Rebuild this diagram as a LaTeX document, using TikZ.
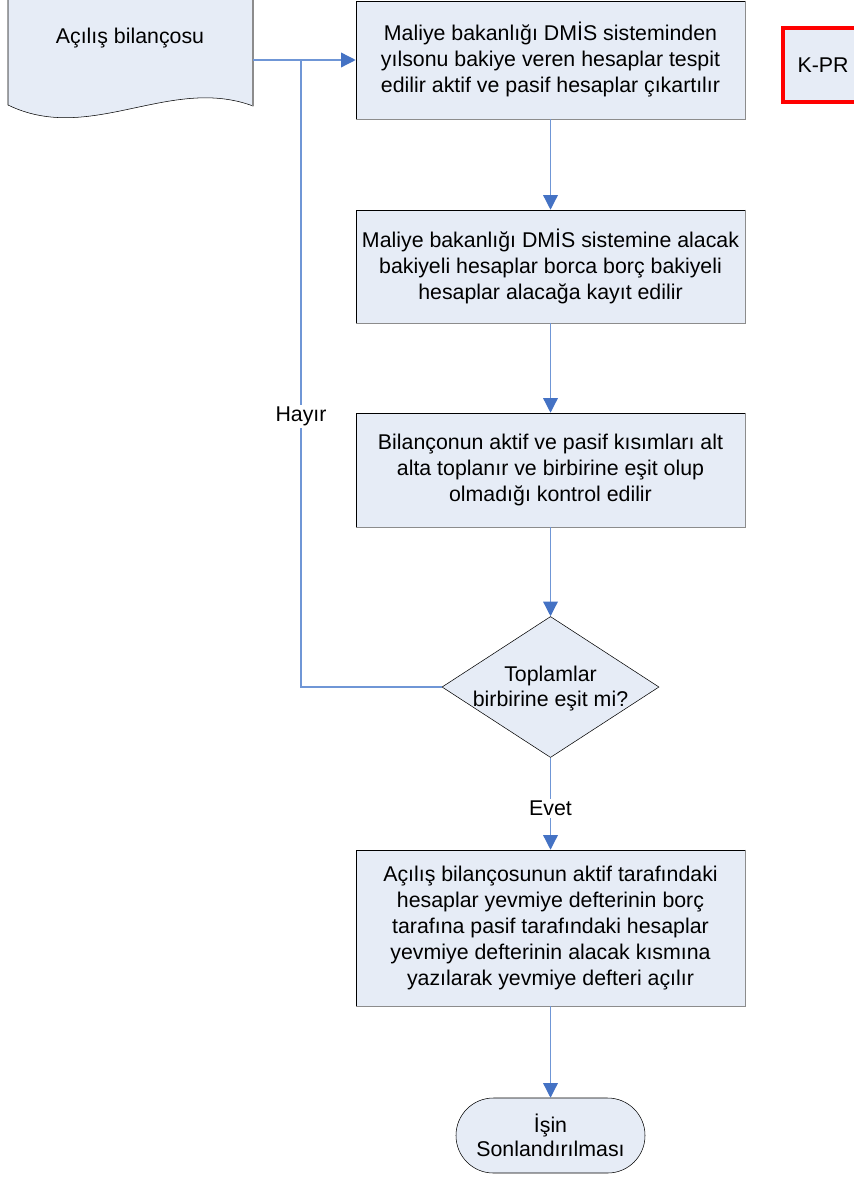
\documentclass[tikz,border=0pt]{standalone}
\usepackage{fontspec}
\setmainfont{Liberation Sans}
\usepackage{tikz}
\usetikzlibrary{arrows.meta, shapes.geometric}
\definecolor{boxfill}{HTML}{E6ECF6}
\definecolor{linkblue}{HTML}{6F96D6}
\definecolor{tipblue}{HTML}{4472C4}

\begin{document}
\begin{tikzpicture}
    [x=.75pt, y=-.75pt,
     font=\fontsize{16}{19.5}\selectfont,
     >={Triangle[width=11pt, length=11pt, color=tipblue]},
     process/.style={draw=black, fill=boxfill, align=center,
                     minimum width=291.75pt, inner sep=0pt},
     decision/.style={diamond, draw=black, fill=boxfill, inner sep=0pt,
                      minimum width=162.75pt, minimum height=105.75pt},
     terminal/.style={draw=black, fill=boxfill, align=center,
                      rounded corners=28pt, minimum width=141.75pt,
                      minimum height=56.25pt},
     link/.style={draw=linkblue, line width=1pt},
     answer/.style={fill=white, inner sep=1.5pt},
    ]
    \useasboundingbox (0, 0) rectangle (853, 1177);

    % Document shape
    \draw[fill=boxfill] (8, -2) -- (8, 105)
        .. controls (90, 145) and (170, 75) .. (253, 106) -- (253, -2) -- cycle;
    \draw[black!45, line width=1pt] (253, -2) -- (253, 106);
    \node (open) at (130, 38) {Açılış bilançosu};
    \coordinate (openR) at (253, 60);

    % Process steps
    \node[process, minimum height=88.5pt] (list) at (550.5, 60)
        {Maliye bakanlığı DMİS sisteminden\\yılsonu bakiye veren hesaplar tespit\\
         edilir aktif ve pasif hesaplar çıkartılır};
    \node[process, minimum height=84.75pt] (post) at (550.5, 266.5)
        {Maliye bakanlığı DMİS sistemine alacak\\bakiyeli hesaplar borca borç bakiyeli\\
         hesaplar alacağa kayıt edilir};
    \node[process, minimum height=85.5pt] (sum) at (550.5, 470)
        {Bilançonun aktif ve pasif kısımları alt\\alta toplanır ve birbirine eşit olup\\
         olmadığı kontrol edilir};
    \node[decision] (equal) at (550.5, 687) {};
    \node[align=center] (equaltext) at (550.5, 688.5)
        {Toplamlar\\[-1pt]birbirine eşit mi?};
    \node[process, minimum height=117pt] (journal) at (550.5, 928)
        {Açılış bilançosunun aktif tarafındaki\\hesaplar yevmiye defterinin borç\\
         tarafına pasif tarafındaki hesaplar\\yevmiye defterinin alacak kısmına\\
         yazılarak yevmiye defteri açılır};
    \node[terminal] (end) at (550.5, 1135.5) {İşin\\[-1pt]Sonlandırılması};

    % Right/bottom edges in gray
    \foreach \bx in {list, post, sum, journal} {
        \draw[black!45, line width=1pt]
            (\bx.north east) -- (\bx.south east) -- (\bx.south west);
    }

    % Code box
    \node[draw=red, line width=2.5pt, fill=boxfill, minimum width=60pt,
          minimum height=55.5pt] (code) at (823, 65) {K-PR};

    % Connectors
    \coordinate (join) at (301, 60);
    \draw[link, ->] (openR) -- (list.west);
    \foreach \from / \to in {list/post, post/sum, sum/equal, journal/end} {
        \draw[link, ->] (\from) -- (\to);
    }
    \draw[link, ->] (equal.south) -- (journal.north)
        node[answer, pos=.55, text=black] {Evet};
    \draw[link] (equal.west) -| (join)
        node[answer, pos=.716, text=black] {Hayır};
\end{tikzpicture}
\end{document}
